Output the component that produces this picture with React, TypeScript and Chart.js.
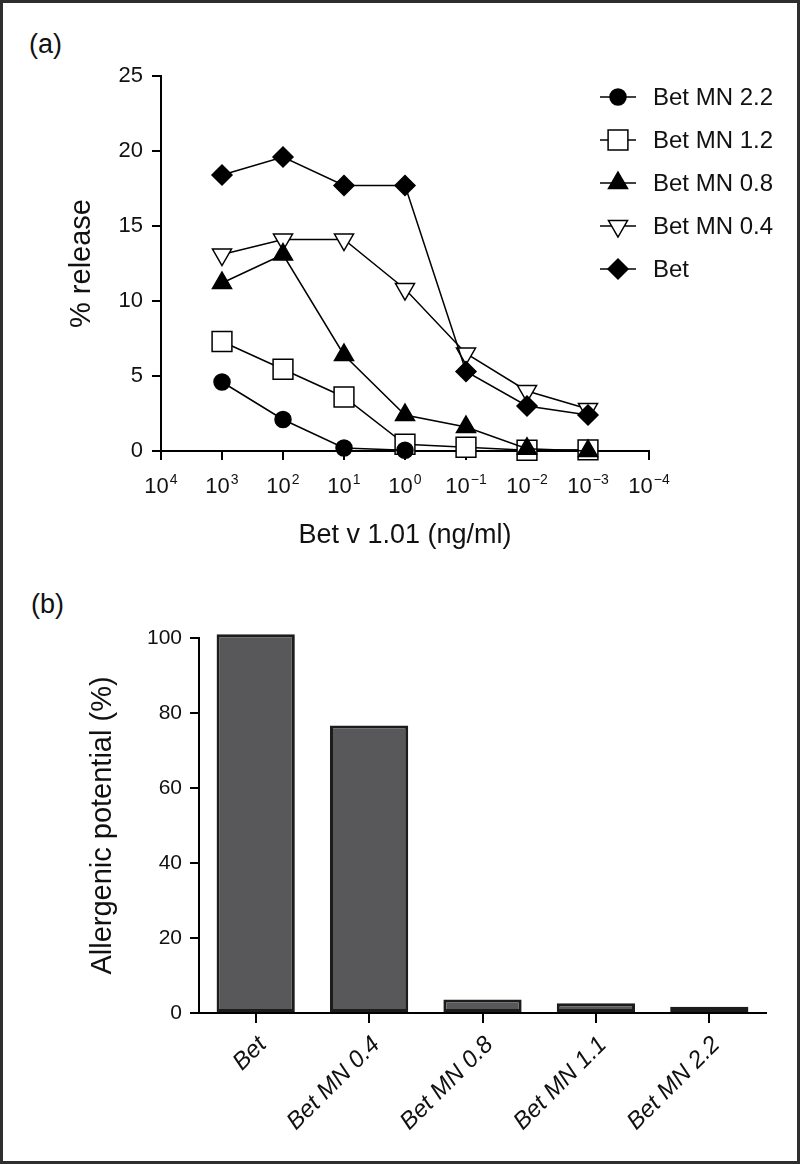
import React, { useEffect, useRef } from 'react';
import { Chart, registerables } from 'chart.js';
import { drawPoint } from 'chart.js/helpers';

Chart.register(...registerables);

// ---------- data: panel (a) ----------
const concentrationExponents = [3, 2, 1, 0, -1, -2, -3];
const axisExponents = [4, 3, 2, 1, 0, -1, -2, -3, -4];
const releaseTicks = [0, 5, 10, 15, 20, 25];
const seriesNames = ['Bet MN 2.2', 'Bet MN 1.2', 'Bet MN 0.8', 'Bet MN 0.4', 'Bet'];
const betMN22 = [4.6, 2.1, 0.2, 0.05, null, null, null];
const betMN12 = [7.3, 5.45, 3.6, 0.45, 0.25, 0.05, 0.08];
const betMN08 = [11.2, 13.1, 6.4, 2.4, 1.6, 0.15, 0];
const betMN04 = [13.1, 14.1, 14.1, 10.8, 6.5, 4.0, 2.8];
const betWT = [18.4, 19.6, 17.7, 17.7, 5.3, 3.0, 2.4];

// ---------- data: panel (b) ----------
const barCategories = ['Bet', 'Bet MN 0.4', 'Bet MN 0.8', 'Bet MN 1.1', 'Bet MN 2.2'];
const allergenicPotential = [101, 76.7, 3.6, 2.6, 1.7];
const potentialTicks = [0, 20, 40, 60, 80, 100];

const FONT = '"Liberation Sans", Arial, Helvetica, sans-serif';

const seriesValues = [betMN22, betMN12, betMN08, betMN04, betWT];
const markerStyles = [
  { pointStyle: 'circle', radius: 8, fill: '#000000', rotation: 0, order: 0 },
  { pointStyle: 'rect', radius: 14, fill: '#ffffff', rotation: 0, order: 3 },
  { pointStyle: 'triangle', radius: 11, fill: '#000000', rotation: 0, order: 1 },
  { pointStyle: 'triangle', radius: 11, fill: '#ffffff', rotation: 180, order: 4 },
  { pointStyle: 'rectRot', radius: 10, fill: '#000000', rotation: 0, order: 2 },
];

const legendPlugin = {
  id: 'markerLegend',
  afterDraw(chart: any) {
    const ctx = chart.ctx;
    const lineX0 = 600;
    const lineX1 = 636;
    const markerX = 618;
    const textX = 653;
    const y0 = 97;
    const step = 43;
    ctx.save();
    seriesNames.forEach((name, i) => {
      const y = y0 + i * step;
      const m = markerStyles[i];
      ctx.strokeStyle = '#000';
      ctx.lineWidth = 1.5;
      ctx.beginPath();
      ctx.moveTo(lineX0, y);
      ctx.lineTo(lineX1, y);
      ctx.stroke();
      ctx.fillStyle = m.fill;
      ctx.strokeStyle = '#000';
      ctx.lineWidth = 1.5;
      drawPoint(ctx, { pointStyle: m.pointStyle, rotation: m.rotation, radius: m.radius, borderWidth: 1.5 }, markerX, y);
      ctx.fillStyle = '#111';
      ctx.font = `24px ${FONT}`;
      ctx.textAlign = 'left';
      ctx.textBaseline = 'middle';
      ctx.fillText(name, textX, y + 1);
    });
    ctx.restore();
  },
};

const powerLabelPlugin = {
  id: 'powerLabels',
  afterDraw(chart: any) {
    const ctx = chart.ctx;
    const xs = chart.scales.x;
    const base = chart.chartArea.bottom;
    ctx.save();
    ctx.fillStyle = '#111';
    ctx.textAlign = 'left';
    ctx.textBaseline = 'alphabetic';
    xs.ticks.forEach((t: any) => {
      const px = xs.getPixelForValue(t.value);
      const exp = t.value < 0 ? '\u2212' + Math.abs(t.value) : String(t.value);
      ctx.font = `22px ${FONT}`;
      const w1 = ctx.measureText('10').width;
      ctx.font = `14px ${FONT}`;
      const w2 = ctx.measureText(exp).width;
      const start = px - (w1 + w2 + 1) / 2;
      ctx.font = `22px ${FONT}`;
      ctx.fillText('10', start, base + 42);
      ctx.font = `14px ${FONT}`;
      ctx.fillText(exp, start + w1 + 1, base + 33);
    });
    ctx.restore();
  },
};

const axisLine = { display: true, color: '#000', width: 2 };
const tickGrid = (len: number) => ({
  drawOnChartArea: false,
  drawTicks: true,
  tickLength: len,
  color: '#000',
  lineWidth: 2,
});

function topConfig(): any {
  return {
    type: 'line',
    data: {
      datasets: seriesNames.map((name, i) => {
        const m = markerStyles[i];
        return {
          label: name,
          data: concentrationExponents.map((x, j) => ({ x, y: seriesValues[i][j] })),
          borderColor: '#000',
          borderWidth: 1.5,
          pointStyle: m.pointStyle,
          pointRadius: m.radius,
          pointRotation: m.rotation,
          pointBackgroundColor: m.fill,
          pointBorderColor: '#000',
          pointBorderWidth: 1.5,
          tension: 0,
          fill: false,
          clip: false,
          order: m.order,
        };
      }),
    },
    options: {
      responsive: false,
      animation: false,
      events: [],
      layout: { padding: { left: 0, top: 76, right: 151, bottom: 0 } },
      plugins: { legend: { display: false }, tooltip: { enabled: false } },
      scales: {
        x: {
          type: 'linear',
          reverse: true,
          min: -4,
          max: 4,
          afterBuildTicks: (s: any) => {
            s.ticks = axisExponents.map((v) => ({ value: v }));
          },
          ticks: { display: false },
          grid: tickGrid(9),
          border: axisLine,
          title: {
            display: true,
            text: 'Bet v 1.01 (ng/ml)',
            color: '#111',
            font: { family: FONT, size: 27 },
            padding: { top: 0, bottom: 28 },
          },
          afterFit: (s: any) => {
            s.height = 129;
          },
        },
        y: {
          type: 'linear',
          min: 0,
          max: 25,
          afterBuildTicks: (s: any) => {
            s.ticks = releaseTicks.map((v) => ({ value: v }));
          },
          ticks: { color: '#111', font: { family: FONT, size: 22 }, padding: 9 },
          grid: tickGrid(9),
          border: axisLine,
          title: {
            display: true,
            text: '% release',
            color: '#111',
            font: { family: FONT, size: 29 },
            padding: { top: 65, bottom: 0 },
          },
          afterFit: (s: any) => {
            s.width = 161;
          },
        },
      },
    },
    plugins: [legendPlugin, powerLabelPlugin],
  };
}

function bottomConfig(): any {
  return {
    type: 'bar',
    data: {
      labels: barCategories,
      datasets: [
        {
          label: 'Allergenic potential (%)',
          data: allergenicPotential,
          backgroundColor: '#58585a',
          borderColor: '#1c1c1c',
          borderWidth: 3,
          borderSkipped: false,
          barPercentage: 0.69,
          categoryPercentage: 1,
          clip: false,
        },
      ],
    },
    options: {
      responsive: false,
      animation: false,
      events: [],
      layout: { padding: { left: 0, top: 58, right: 34, bottom: 0 } },
      plugins: { legend: { display: false }, tooltip: { enabled: false } },
      scales: {
        x: {
          type: 'category',
          offset: true,
          grid: { ...tickGrid(10), offset: false },
          border: axisLine,
          ticks: {
            color: '#111',
            font: { family: FONT, size: 24, style: 'italic' },
            minRotation: 45,
            maxRotation: 45,
            padding: 8,
            labelOffset: 7,
          },
          afterFit: (s: any) => {
            s.height = 151;
          },
        },
        y: {
          type: 'linear',
          min: 0,
          max: 100,
          afterBuildTicks: (s: any) => {
            s.ticks = potentialTicks.map((v) => ({ value: v }));
          },
          ticks: { color: '#111', font: { family: FONT, size: 21 }, padding: 8 },
          grid: tickGrid(9),
          border: axisLine,
          title: {
            display: true,
            text: 'Allergenic potential (%)',
            color: '#111',
            font: { family: FONT, size: 29 },
            padding: { top: 86, bottom: 0 },
          },
          afterFit: (s: any) => {
            s.width = 199;
          },
        },
      },
    },
  };
}

export default function App() {
  const topRef = useRef<HTMLCanvasElement>(null);
  const bottomRef = useRef<HTMLCanvasElement>(null);

  useEffect(() => {
    document.body.style.margin = '0';
    const c1 = new Chart(topRef.current as HTMLCanvasElement, topConfig());
    const c2 = new Chart(bottomRef.current as HTMLCanvasElement, bottomConfig());
    return () => {
      c1.destroy();
      c2.destroy();
    };
  }, []);

  const panelLabel: React.CSSProperties = {
    position: 'absolute',
    fontFamily: FONT,
    fontSize: 27,
    lineHeight: '27px',
    color: '#111',
  };

  return (
    <div
      style={{
        position: 'relative',
        width: 800,
        height: 1164,
        background: '#ffffff',
        boxShadow: 'inset 0 0 0 3px #2e2e2e',
        overflow: 'hidden',
      }}
    >
      <div style={{ ...panelLabel, left: 29, top: 31 }}>(a)</div>
      <div style={{ ...panelLabel, left: 31, top: 591 }}>(b)</div>
      <canvas
        ref={topRef}
        width={800}
        height={580}
        style={{ position: 'absolute', left: 0, top: 0, width: 800, height: 580 }}
      />
      <canvas
        ref={bottomRef}
        width={800}
        height={584}
        style={{ position: 'absolute', left: 0, top: 580, width: 800, height: 584 }}
      />
    </div>
  );
}
